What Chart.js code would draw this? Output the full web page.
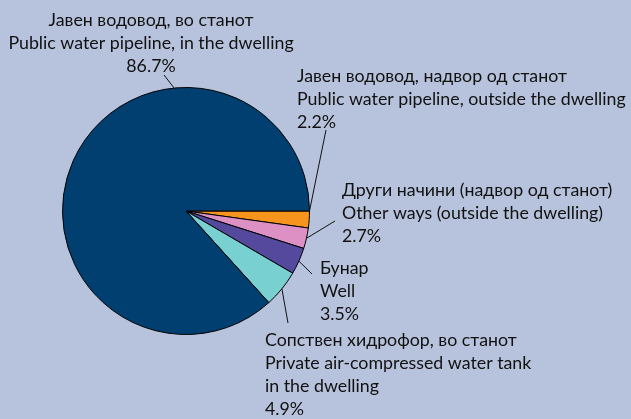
<!DOCTYPE html>
<html>
<head>
<meta charset="utf-8">
<script src="https://cdn.jsdelivr.net/npm/chart.js@4"></script>
<style>
html,body{margin:0;padding:0;background:#b7c3dc;}
canvas{display:block;}
</style>
</head>
<body>
<canvas id="c" width="631" height="419"></canvas>
<script>
const categoriesMk = ["Јавен водовод, надвор од станот", "Други начини (надвор од станот)", "Бунар", "Сопствен хидрофор, во станот", "Јавен водовод, во станот"];
const categoriesEn = [["Public water pipeline, outside the dwelling"], ["Other ways (outside the dwelling)"], ["Well"], ["Private air-compressed water tank", "in the dwelling"], ["Public water pipeline, in the dwelling"]];
const values = [2.2, 2.7, 3.5, 4.9, 86.7];
const colors = ["#f7941d", "#dd90c3", "#55499e", "#79d0d0", "#003f6f"];

// label layout: text anchor (x, y of first line), alignment, leader end point, anchor fraction within slice
const labelLayout = [
  {x: 297, y: 76, align: "left", lx: 326, ly: 130, f: 0},
  {x: 342, y: 190, align: "left", lx: 335, ly: 221, f: 0.5},
  {x: 320, y: 268, align: "left", lx: 312, ly: 274, f: 0.5},
  {x: 265, y: 340, align: "left", lx: 288, ly: 323, f: 0.5},
  {x: 151, y: 20, align: "center", lx: 164, ly: 75, f: 0.694}
];

const labelPlugin = {
  id: "outLabels",
  afterDatasetsDraw(chart) {
    const ctx = chart.ctx;
    const meta = chart.getDatasetMeta(0);
    ctx.save();
    ctx.font = "17.8px Lato, 'Open Sans', sans-serif";
    ctx.fillStyle = "#111";
    ctx.strokeStyle = "#111";
    ctx.lineWidth = 1;
    ctx.textBaseline = "middle";
    meta.data.forEach((arc, i) => {
      const p = arc.getProps(["x", "y", "startAngle", "endAngle", "outerRadius"], true);
      const L = labelLayout[i];
      const a = p.startAngle + (p.endAngle - p.startAngle) * L.f;
      const ex = p.x + Math.cos(a) * p.outerRadius;
      const ey = p.y + Math.sin(a) * p.outerRadius;
      ctx.beginPath();
      ctx.moveTo(ex, ey);
      ctx.lineTo(L.lx, L.ly);
      ctx.stroke();
      const lines = [categoriesMk[i], ...categoriesEn[i], values[i].toFixed(1) + "%"];
      ctx.textAlign = L.align;
      lines.forEach((t, k) => ctx.fillText(t, L.x, L.y + k * 23));
    });
    ctx.restore();
  }
};

new Chart(document.getElementById("c"), {
  type: "pie",
  data: {
    labels: categoriesMk,
    datasets: [{
      data: values,
      backgroundColor: colors,
      borderColor: "#000",
      borderWidth: 1
    }]
  },
  options: {
    responsive: false,
    animation: false,
    rotation: 90,
    layout: {padding: {left: 62, right: 321, top: 87, bottom: 84}},
    plugins: {legend: {display: false}, tooltip: {enabled: false}}
  },
  plugins: [labelPlugin]
});
</script>
</body>
</html>
